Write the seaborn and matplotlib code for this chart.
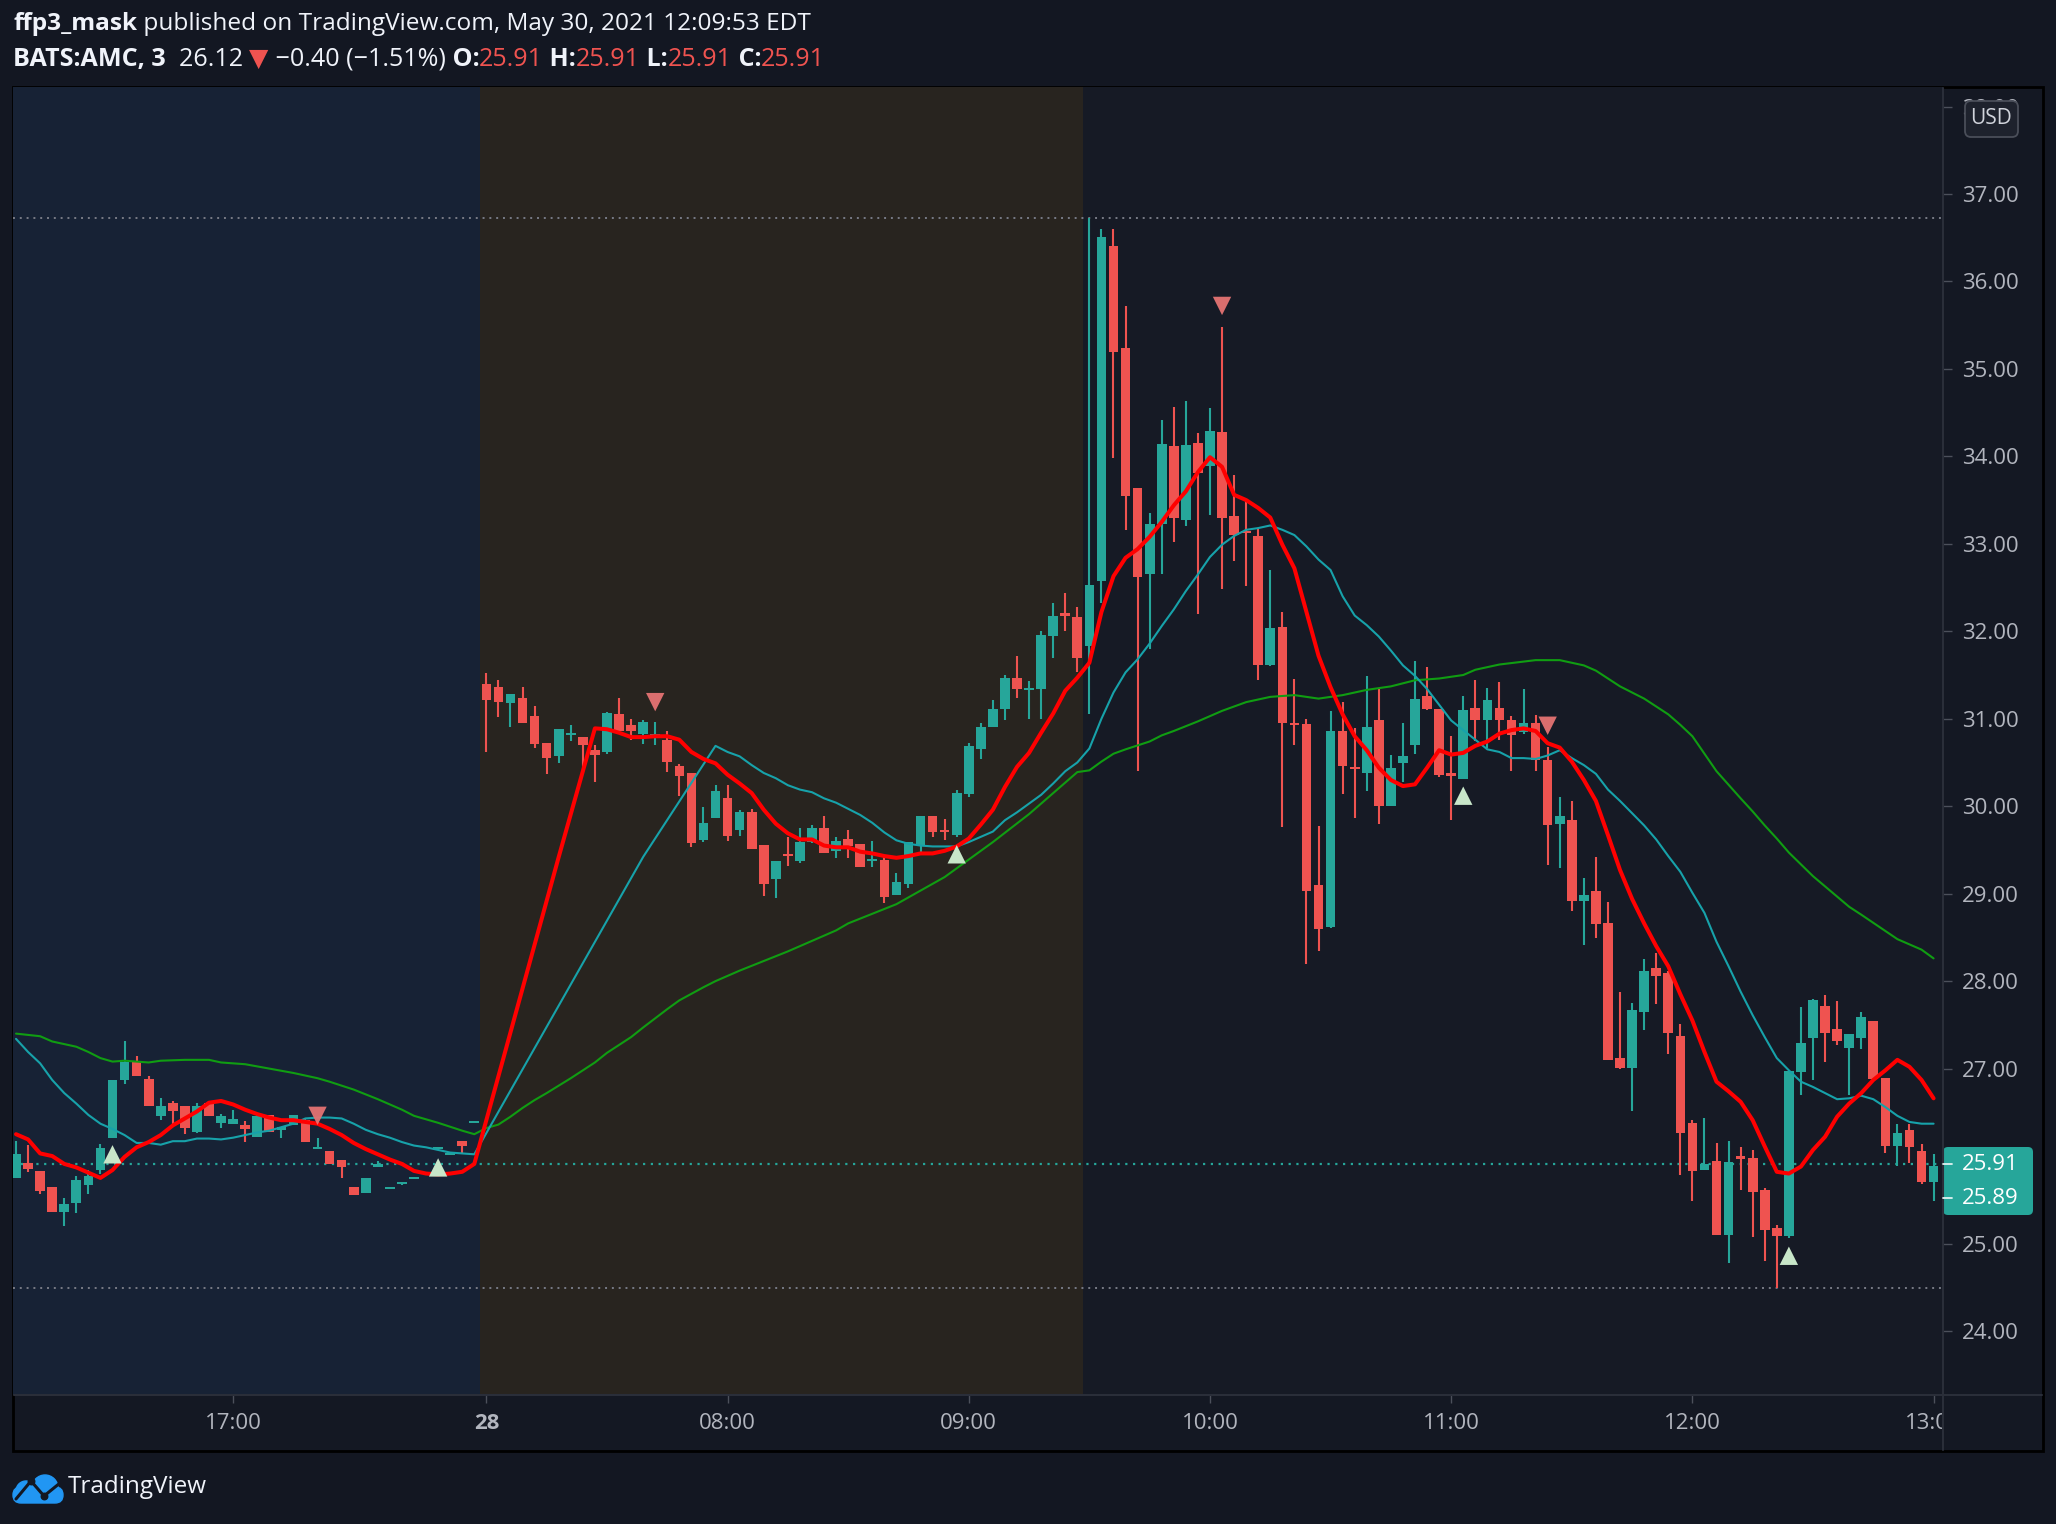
import matplotlib
matplotlib.use("Agg")
import numpy as np
import seaborn as sns
import matplotlib.pyplot as plt
from matplotlib.patches import Rectangle, FancyBboxPatch, Circle
from matplotlib.lines import Line2D

# =========================
# Data (3 minute bars, index 0..159)
# =========================

opens = [
    25.75, 25.92, 25.83, 25.65, 25.36, 25.46, 25.67, 25.84, 26.21, 26.87,
    27.08, 26.88, 26.46, 26.61, 26.57, 26.28, 26.61, 26.38, 26.37, 26.36,
    26.22, 26.47, 26.30, 26.36, 26.41, 26.08, 26.06, 25.95, 25.65, 25.58,
    25.87, 25.62, 25.68, 25.74, 25.79, 26.08, 26.01, 26.17, 26.38,
    31.40, 31.36, 31.18, 31.24, 31.03, 30.72, 30.57, 30.81, 30.79, 30.64,
    30.62, 31.05, 30.93, 30.83, 30.80, 30.76, 30.46, 30.38, 29.61, 29.87,
    30.09, 29.73, 29.93, 29.56, 29.17, 29.44, 29.37,
    29.59, 29.75, 29.49, 29.62, 29.57, 29.37, 29.39, 28.99, 29.11, 29.56,
    29.89, 29.71, 29.67, 30.14, 30.65, 30.90, 31.11, 31.47, 31.33, 31.34,
    31.95, 32.19, 32.16, 31.83,
    32.58, 36.40, 35.24, 33.64, 32.65, 33.23, 34.12, 33.27, 34.15, 33.89,
    34.28, 33.32, 33.13, 33.09, 31.62, 32.05, 30.94, 30.94, 29.10, 28.62,
    30.86, 30.43, 30.38, 30.99, 30.00, 30.49, 30.70, 31.26, 31.11, 30.36,
    30.31, 31.12, 30.99, 31.12, 30.99, 30.85, 30.95, 30.53, 29.80, 29.84,
    28.92, 29.03, 28.67, 27.12, 27.01, 27.65, 28.15, 28.09, 27.37, 26.38,
    25.84, 25.94, 25.10, 25.98, 25.98, 25.61, 25.18, 25.09, 26.96, 27.35,
    27.72, 27.45, 27.24, 27.35, 27.54, 26.89, 26.12, 26.30, 26.06, 25.70,
]

highs = [
    26.17, 26.13, 25.83, 25.65, 25.52, 25.77, 25.84, 26.14, 26.87, 27.32,
    27.14, 26.92, 26.66, 26.63, 26.57, 26.61, 26.61, 26.48, 26.53, 26.40,
    26.47, 26.47, 26.33, 26.47, 26.43, 26.21, 26.06, 25.95, 25.65, 25.75,
    25.94, 25.64, 25.70, 25.76, 25.80, 26.10, 26.03, 26.17, 26.40,
    31.52, 31.44, 31.28, 31.36, 31.15, 30.72, 30.88, 30.93, 30.79, 30.70,
    31.08, 31.24, 31.00, 30.99, 30.96, 30.86, 30.48, 30.38, 29.99, 30.24,
    30.24, 29.96, 29.97, 29.56, 29.37, 29.65, 29.75,
    29.79, 29.89, 29.65, 29.73, 29.57, 29.60, 29.43, 29.24, 29.59, 29.89,
    29.89, 29.85, 30.18, 30.72, 30.95, 31.21, 31.50, 31.72, 31.43, 32.00,
    32.32, 32.44, 32.28, 36.72,
    36.60, 36.60, 35.72, 33.64, 33.35, 34.42, 34.57, 34.63, 34.27, 34.55,
    35.48, 33.79, 33.49, 33.18, 32.70, 32.22, 31.45, 31.00, 29.77, 31.09,
    31.19, 30.89, 31.49, 31.34, 30.58, 30.95, 31.66, 31.59, 31.11, 30.80,
    31.26, 31.44, 31.35, 31.42, 31.03, 31.34, 31.04, 30.68, 30.10, 30.06,
    29.18, 29.42, 28.90, 27.88, 27.75, 28.25, 28.32, 28.12, 27.51, 26.41,
    26.44, 26.15, 26.17, 26.10, 26.07, 25.63, 25.21, 26.97, 27.70, 27.80,
    27.84, 27.77, 27.39, 27.65, 27.54, 26.89, 26.37, 26.37, 26.14, 26.02,
]

lows = [
    25.75, 25.82, 25.57, 25.36, 25.20, 25.35, 25.57, 25.80, 26.21, 26.82,
    26.91, 26.57, 26.41, 26.36, 26.25, 26.26, 26.46, 26.32, 26.37, 26.16,
    26.22, 26.27, 26.21, 26.36, 26.16, 26.08, 25.91, 25.75, 25.55, 25.58,
    25.87, 25.62, 25.67, 25.74, 25.79, 26.08, 26.01, 26.03, 26.38,
    30.62, 31.02, 30.91, 30.95, 30.67, 30.37, 30.49, 30.75, 30.39, 30.28,
    30.60, 30.86, 30.76, 30.71, 30.70, 30.39, 30.12, 29.53, 29.59, 29.87,
    29.60, 29.66, 29.51, 28.97, 28.95, 29.32, 29.35,
    29.58, 29.46, 29.41, 29.41, 29.31, 29.31, 28.89, 28.99, 29.07, 29.46,
    29.65, 29.61, 29.65, 30.11, 30.54, 30.90, 30.99, 31.24, 31.00, 31.00,
    31.70, 32.00, 31.54, 31.05,
    32.32, 33.98, 33.16, 30.40, 31.80, 32.66, 33.02, 33.20, 32.20, 33.33,
    32.48, 32.80, 32.52, 31.44, 31.60, 29.76, 30.70, 28.20, 28.34, 28.61,
    30.14, 29.87, 30.17, 29.80, 30.00, 30.28, 30.60, 31.10, 30.33, 29.84,
    30.31, 30.74, 30.66, 30.76, 30.40, 30.82, 30.40, 29.33, 29.29, 28.80,
    28.41, 28.49, 27.10, 27.00, 26.51, 27.44, 27.74, 27.17, 25.78, 25.49,
    25.84, 25.10, 24.78, 25.61, 25.08, 24.80, 24.49, 25.06, 26.70, 26.87,
    27.07, 27.27, 26.70, 27.22, 26.86, 26.04, 25.89, 25.92, 25.68, 25.49,
]

closes = [
    26.02, 25.85, 25.60, 25.36, 25.45, 25.73, 25.77, 26.09, 26.87, 27.08,
    26.92, 26.57, 26.57, 26.51, 26.32, 26.57, 26.46, 26.46, 26.42, 26.31,
    26.46, 26.27, 26.33, 26.47, 26.16, 26.10, 25.91, 25.87, 25.55, 25.75,
    25.91, 25.64, 25.69, 25.76, 25.80, 26.10, 26.03, 26.12, 26.40,
    31.21, 31.19, 31.28, 30.95, 30.71, 30.55, 30.88, 30.82, 30.70, 30.58,
    31.06, 30.86, 30.86, 30.96, 30.81, 30.51, 30.35, 29.58, 29.81, 30.17,
    29.66, 29.93, 29.51, 29.11, 29.37, 29.43, 29.59,
    29.75, 29.46, 29.60, 29.55, 29.31, 29.38, 28.96, 29.13, 29.59, 29.89,
    29.70, 29.70, 30.15, 30.69, 30.90, 31.11, 31.47, 31.34, 31.34, 31.96,
    32.18, 32.18, 31.70, 32.53,
    36.51, 35.19, 33.55, 32.62, 33.23, 34.14, 33.29, 34.13, 33.81, 34.29,
    33.30, 33.10, 33.12, 31.61, 32.04, 30.95, 30.93, 29.03, 28.60, 30.86,
    30.46, 30.42, 30.91, 30.00, 30.44, 30.57, 31.23, 31.11, 30.36, 30.35,
    31.10, 30.99, 31.21, 30.99, 30.81, 30.95, 30.53, 29.79, 29.89, 28.92,
    28.98, 28.65, 27.10, 27.01, 27.67, 28.12, 28.06, 27.41, 26.26, 25.83,
    25.91, 25.10, 25.93, 25.97, 25.59, 25.15, 25.09, 26.97, 27.29, 27.78,
    27.41, 27.31, 27.39, 27.59, 26.88, 26.11, 26.26, 26.10, 25.70, 25.89,
]

# fast moving average (thick red)
red_ma_x = list(range(0, 39)) + [45] + list(range(48, 160))
red_ma_y = [
    26.25, 26.19, 26.03, 26.00, 25.91, 25.87, 25.81, 25.75, 25.84, 25.99,
    26.10, 26.16, 26.24, 26.35, 26.43, 26.51, 26.61, 26.63, 26.59, 26.53,
    26.48, 26.44, 26.41, 26.41, 26.39, 26.37, 26.31, 26.24, 26.15, 26.08,
    26.02, 25.96, 25.91, 25.83, 25.80, 25.79, 25.80, 25.82, 25.91,
    29.42,
    30.89, 30.88, 30.84, 30.79, 30.79, 30.80, 30.80, 30.76, 30.62, 30.54,
    30.49, 30.36, 30.26, 30.15, 29.96, 29.80, 29.69, 29.62, 29.62, 29.55,
    29.53, 29.53, 29.48, 29.46, 29.43, 29.41, 29.43, 29.46, 29.46, 29.49,
    29.54, 29.63, 29.79, 29.96, 30.22, 30.45, 30.61, 30.84, 31.06, 31.32,
    31.47, 31.64, 32.22, 32.63, 32.84, 32.94, 33.08, 33.25, 33.44, 33.60,
    33.82, 33.99, 33.88, 33.56, 33.50, 33.41, 33.30, 32.99, 32.72, 32.22,
    31.72, 31.36, 31.05, 30.80, 30.64, 30.44, 30.30, 30.23, 30.25, 30.44,
    30.64, 30.59, 30.61, 30.69, 30.74, 30.83, 30.87, 30.89, 30.86, 30.72,
    30.67, 30.51, 30.30, 30.06, 29.67, 29.27, 28.94, 28.66, 28.40, 28.17,
    27.85, 27.55, 27.19, 26.85, 26.74, 26.62, 26.41, 26.11, 25.82, 25.80,
    25.88, 26.07, 26.22, 26.45, 26.60, 26.72, 26.87, 26.98, 27.10, 27.02,
    26.87, 26.66,
]

# middle moving average (thin teal)
teal_ma_x = list(range(0, 39)) + [52] + list(range(58, 160))
teal_ma_y = [
    27.34, 27.19, 27.06, 26.87, 26.72, 26.60, 26.47, 26.37, 26.31, 26.24,
    26.15, 26.15, 26.13, 26.17, 26.17, 26.20, 26.20, 26.19, 26.21, 26.24,
    26.27, 26.29, 26.33, 26.37, 26.43, 26.44, 26.44, 26.43, 26.37, 26.30,
    26.25, 26.21, 26.16, 26.12, 26.10, 26.07, 26.04, 26.03, 26.02,
    29.42,
    30.69, 30.62, 30.57, 30.47, 30.38, 30.32, 30.24, 30.19, 30.16, 30.09,
    30.04, 29.97, 29.90, 29.81, 29.70, 29.61, 29.57, 29.55, 29.54, 29.54,
    29.54, 29.59, 29.65, 29.71, 29.84, 29.93, 30.03, 30.13, 30.26, 30.40,
    30.50, 30.66, 31.00, 31.30, 31.53, 31.68, 31.86, 32.06, 32.25, 32.46,
    32.65, 32.85, 32.99, 33.09, 33.16, 33.18, 33.21, 33.16, 33.10, 32.97,
    32.82, 32.70, 32.40, 32.18, 32.07, 31.94, 31.78, 31.61, 31.49, 31.34,
    31.16, 30.98, 30.87, 30.76, 30.65, 30.62, 30.55, 30.55, 30.54, 30.58,
    30.64, 30.55, 30.47, 30.37, 30.19, 30.06, 29.92, 29.78, 29.62, 29.43,
    29.25, 29.01, 28.78, 28.45, 28.17, 27.88, 27.61, 27.36, 27.12, 26.98,
    26.85, 26.79, 26.72, 26.65, 26.66, 26.69, 26.65, 26.56, 26.46, 26.39,
    26.37, 26.37,
]

# slow moving average (thin green)
green_ma_x = [
    0, 2, 3, 5, 6, 7, 8, 9, 11, 12, 14, 16, 17, 19, 21, 23, 25, 26, 28, 30,
    32, 33, 35, 37, 38, 39, 40, 41, 42, 43, 44, 46, 48, 49, 51, 52, 54, 55,
    57, 58, 59, 60, 62, 64, 65, 66, 68, 69, 71, 73, 77, 81, 84, 86, 88, 89,
    90, 91, 92, 94, 95, 96, 98, 100, 102, 104, 106, 108, 110, 112, 114, 116,
    118, 120, 121, 123, 126, 128, 130, 131, 133, 135, 137, 138, 139, 141,
    143, 144, 145, 146, 147, 149, 152, 153, 156, 158, 159,
]
green_ma_y = [
    27.40, 27.37, 27.31, 27.25, 27.19, 27.12, 27.08, 27.09, 27.07, 27.09,
    27.10, 27.10, 27.07, 27.05, 27.00, 26.95, 26.89, 26.85, 26.76, 26.65,
    26.53, 26.46, 26.38, 26.29, 26.25, 26.32, 26.36, 26.45, 26.55, 26.64,
    26.72, 26.89, 27.07, 27.18, 27.36, 27.47, 27.68, 27.78, 27.93, 28.00,
    28.06, 28.12, 28.23, 28.34, 28.40, 28.46, 28.58, 28.66, 28.77, 28.88,
    29.19, 29.59, 29.91, 30.15, 30.39, 30.41, 30.51, 30.60, 30.65, 30.74,
    30.81, 30.86, 30.97, 31.09, 31.19, 31.25, 31.27, 31.23, 31.27, 31.33,
    31.37, 31.44, 31.46, 31.50, 31.56, 31.62, 31.67, 31.67, 31.61, 31.55,
    31.37, 31.23, 31.05, 30.93, 30.80, 30.40, 30.09, 29.94, 29.78, 29.63,
    29.47, 29.20, 28.85, 28.76, 28.48, 28.36, 28.26,
]

# signal markers
up_x = [8, 35, 78, 120, 147]
up_y = [26.02, 25.87, 29.45, 30.12, 24.86]
down_x = [25, 53, 100, 127]
down_y = [26.46, 31.19, 35.72, 30.92]

# sessions: after hours 27th, premarket 28th, regular hours
session_edges = [-0.5, 38.5, 88.5, 160.5]
session_colors = ["#172235", "#28241f", "#161a25"]

x_tick_pos = [18, 39, 59, 79, 99, 119, 139, 159]
x_tick_labels = ["17:00", "28", "08:00", "09:00", "10:00", "11:00", "12:00", "13:00"]
y_ticks = list(range(24, 39))

last_price = 25.91
axis_labels = ["25.91", "25.89"]

# =========================
# Figure setup
# =========================

W, H = 2056, 1524
BG = "#131722"
UP = "#26a69a"
DOWN = "#ef5350"
TXT = "#b2b5be"
FONT = ["Open Sans", "DejaVu Sans"]

sns.set_theme(style="dark")
plt.rcParams["font.family"] = FONT

fig = plt.figure(figsize=(W / 100, H / 100), dpi=100, facecolor=BG)

# background frame (pixel coordinates, y down)
ax_bg = fig.add_axes([0, 0, 1, 1], zorder=-2)
ax_bg.set_xlim(0, W)
ax_bg.set_ylim(H, 0)
ax_bg.axis("off")
ax_bg.add_patch(Rectangle((13, 87), 2030, 1364, facecolor="#141823",
                          edgecolor="black", linewidth=2))

# main chart
x0, x1, y0, y1 = 13, 1943, 87, 1395
ax = fig.add_axes([x0 / W, 1 - y1 / H, (x1 - x0) / W, (y1 - y0) / H], zorder=0)
ax.set_facecolor("#161a25")

for i in range(3):
    ax.axvspan(session_edges[i], session_edges[i + 1], color=session_colors[i],
               linewidth=0, zorder=0)

o = np.array(opens)
h = np.array(highs)
l = np.array(lows)
c = np.array(closes)
idx = np.arange(len(o))
colors = np.where(c >= o, UP, DOWN)

ax.vlines(idx, l, h, colors=colors, linewidth=1.5, zorder=2)
body = np.maximum(np.abs(c - o), 0.025)
ax.bar(idx, body, bottom=np.minimum(o, c), width=0.8, color=colors,
       linewidth=0, zorder=3)

# high / low and last price lines
ax.axhline(h.max(), color="#787b86", linestyle=(0, (1, 2.5)), linewidth=1.4, zorder=1)
ax.axhline(l.min(), color="#787b86", linestyle=(0, (1, 2.5)), linewidth=1.4, zorder=1)
ax.axhline(last_price, color=UP, linestyle=(0, (1, 2.5)), linewidth=1.6, zorder=1)

sns.lineplot(x=green_ma_x, y=green_ma_y, ax=ax, color="#109d12", linewidth=1.5, zorder=4)
sns.lineplot(x=teal_ma_x, y=teal_ma_y, ax=ax, color="#17a2aa", linewidth=1.5, zorder=4)
sns.lineplot(x=red_ma_x, y=red_ma_y, ax=ax, color="#ff0000", linewidth=2.9, zorder=5)

sns.scatterplot(x=up_x, y=up_y, ax=ax, marker="^", s=175, color="#c8e6c9",
                edgecolor="none", zorder=6)
sns.scatterplot(x=down_x, y=down_y, ax=ax, marker="v", s=175, color="#e57373",
                edgecolor="none", alpha=0.95, zorder=6)

ax.set_xlim(-0.25, 159.78)
ax.set_ylim(23.268, 38.223)
ax.grid(False)
for s in ax.spines.values():
    s.set_visible(False)
ax.set_xlabel("")
ax.set_ylabel("")

ax.set_yticks(y_ticks)
ax.set_yticklabels([f"{v:.2f}" for v in y_ticks])
ax.yaxis.tick_right()
ax.tick_params(axis="y", right=True, left=False, labelright=True, labelleft=False,
               length=6.5, width=1, color="#4c505b", labelcolor=TXT,
               labelsize=16, pad=7)
ax.set_xticks(x_tick_pos)
ax.set_xticklabels(x_tick_labels)
ax.tick_params(axis="x", bottom=True, length=6, width=1, color="#4c505b",
               labelcolor=TXT, labelsize=16, pad=7)
ax.get_xticklabels()[1].set_fontweight("bold")

# =========================
# Overlay (axes lines, labels, header, logo)
# =========================

ov = fig.add_axes([0, 0, 1, 1], zorder=5)
ov.set_xlim(0, W)
ov.set_ylim(H, 0)
ov.axis("off")
ov.patch.set_alpha(0)

ov.add_line(Line2D([1943, 1943], [88, 1450], color="#2a2e39", linewidth=1.5))
ov.add_line(Line2D([14, 2042], [1395, 1395], color="#2a2e39", linewidth=1.5))
# clip the cut-off time label under the price scale
ov.add_patch(Rectangle((1944, 1396), 98, 54, facecolor="#141823", edgecolor="none"))

# last price labels
ov.add_patch(FancyBboxPatch((1943, 1147), 90, 68,
                            boxstyle="round,pad=0,rounding_size=5",
                            facecolor=UP, edgecolor="none"))
for yy, lab in zip([1164, 1198], axis_labels):
    ov.add_line(Line2D([1943, 1952], [yy, yy], color="#e0f2f1", linewidth=1.3))
    ov.text(1962, yy, lab, color="white", fontsize=16, va="center", ha="left")

# currency box
ov.add_patch(FancyBboxPatch((1965, 101), 53, 36,
                            boxstyle="round,pad=0,rounding_size=6",
                            facecolor="#1e222d", edgecolor="#4a4e59", linewidth=1.3))
ov.text(1991.5, 119, "USD", color="#d1d4dc", fontsize=15, va="center", ha="center")

# header
renderer = fig.canvas.get_renderer()


def header_line(pieces, x, y, size=17.6):
    for txt, col, wt in pieces:
        t = ov.text(x, y, txt, color=col, fontweight=wt, fontsize=size,
                    va="baseline", ha="left", family=FONT)
        x = t.get_window_extent(renderer).x1


WHITE = "#f0f3fa"
header_line([("ffp3_mask", WHITE, "bold"),
             (" published on TradingView.com, May 30, 2021 12:09:53 EDT", WHITE, "normal")],
            13, 30)
header_line([("BATS:AMC, 3", WHITE, "bold"),
             ("  26.12 ", WHITE, "normal"),
             ("▼", DOWN, "normal"),
             (" −0.40 (−1.51%)", WHITE, "normal"),
             (" O:", WHITE, "bold"), ("25.91", DOWN, "normal"),
             (" H:", WHITE, "bold"), ("25.91", DOWN, "normal"),
             (" L:", WHITE, "bold"), ("25.91", DOWN, "normal"),
             (" C:", WHITE, "bold"), ("25.91", DOWN, "normal")],
            13, 66, size=18.1)

# logo
LOGO = "#2196f3"
ov.add_patch(Circle((45, 1488), 13, color=LOGO))
ov.add_patch(Circle((26, 1491), 10, color=LOGO))
ov.add_patch(FancyBboxPatch((13, 1487), 50, 16, boxstyle="round,pad=0,rounding_size=8",
                            color=LOGO))
ov.plot([16, 31, 44, 60], [1499, 1481, 1496, 1483], color=BG, linewidth=2.2)
ov.scatter([31, 44], [1481, 1496], s=22, color=BG, zorder=6)
ov.text(68, 1487, "TradingView", color=WHITE, fontsize=17.5, va="center", ha="left")

fig.savefig("out.png", dpi=100, facecolor=BG)
